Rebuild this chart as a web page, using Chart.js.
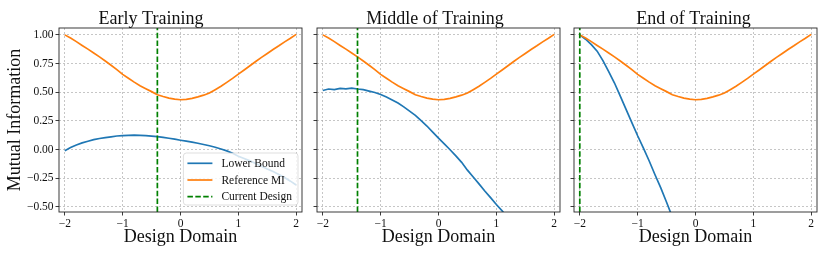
<!DOCTYPE html>
<html>
<head>
<meta charset="utf-8">
<script src="https://cdn.jsdelivr.net/npm/chart.js@4.4.1/dist/chart.umd.min.js"></script>
<style>
  body { margin: 0; background: #fff; }
  #wrap { position: relative; width: 830px; height: 260px; }
  canvas { position: absolute; top: 0; }
</style>
</head>
<body>
<div id="wrap">
  <canvas id="c1" width="310" height="260" style="left:0px"></canvas>
  <canvas id="c2" width="260" height="260" style="left:310px"></canvas>
  <canvas id="c3" width="260" height="260" style="left:570px"></canvas>
</div>
<script>
// data, x step 0.1
const xs = [-2.0, -1.9, -1.8, -1.7, -1.6, -1.5, -1.4, -1.3, -1.2, -1.1, -1.0,
            -0.9, -0.8, -0.7, -0.6, -0.5, -0.4, -0.3, -0.2, -0.1, 0.0,
             0.1, 0.2, 0.3, 0.4, 0.5, 0.6, 0.7, 0.8, 0.9, 1.0,
             1.1, 1.2, 1.3, 1.4, 1.5, 1.6, 1.7, 1.8, 1.9, 2.0];

const referenceMI = [1.000, 0.972, 0.941, 0.908, 0.876, 0.842, 0.808, 0.772, 0.735, 0.697, 0.655,
                     0.622, 0.588, 0.556, 0.530, 0.505, 0.478, 0.462, 0.448, 0.440, 0.434,
                     0.438, 0.446, 0.459, 0.474, 0.493, 0.522, 0.552, 0.586, 0.621, 0.658,
                     0.694, 0.731, 0.768, 0.804, 0.838, 0.873, 0.905, 0.939, 0.970, 1.004];

const lowerEarly = [-0.010, 0.018, 0.040, 0.058, 0.072, 0.086, 0.096, 0.104, 0.111, 0.118, 0.121,
                     0.124, 0.126, 0.124, 0.121, 0.117, 0.112, 0.106, 0.098, 0.090, 0.081,
                     0.073, 0.064, 0.055, 0.044, 0.033, 0.020, 0.005, -0.012, -0.033, -0.058,
                    -0.078, -0.099, -0.122, -0.146, -0.170, -0.192, -0.218, -0.245, -0.276, -0.310];

const lowerMiddle = [0.515, 0.528, 0.522, 0.533, 0.529, 0.536, 0.528, 0.522, 0.510, 0.497, 0.480,
                     0.458, 0.432, 0.405, 0.372, 0.335, 0.298, 0.252, 0.205, 0.152, 0.100,
                     0.050, -0.002, -0.055, -0.112, -0.180, -0.240, -0.300, -0.362, -0.420, -0.480,
                    -0.535, -0.600, null, null, null, null, null, null, null, null];

const lowerEnd = [1.000, 0.962, 0.915, 0.858, 0.775, 0.680, 0.580, 0.465, 0.350, 0.235, 0.120,
                  0.012, -0.100, -0.220, -0.335, -0.460, -0.590, null, null, null, null,
                  null, null, null, null, null, null, null, null, null, null,
                  null, null, null, null, null, null, null, null, null, null];

const currentDesign = [-0.4, -1.4, -2.0];
const panelTitles = ['Early Training', 'Middle of Training', 'End of Training'];
const seriesNames = ['Lower Bound', 'Reference MI', 'Current Design'];

const xTicks = [-2, -1, 0, 1, 2];
const xTickLabels = ['\u22122', '\u22121', '0', '1', '2'];
const yTicks = [-0.5, -0.25, 0, 0.25, 0.5, 0.75, 1.0];
const yTickLabels = ['\u22120.50', '\u22120.25', '0.00', '0.25', '0.50', '0.75', '1.00'];
const xMin = -2.1, xMax = 2.1, yMin = -0.545, yMax = 1.06;

const FONT = "'Liberation Serif', 'DejaVu Serif', serif";
Chart.defaults.font.family = FONT;
Chart.defaults.color = '#111';

const pts = (ys) => xs.map((x, i) => ({ x: x, y: ys[i] }));

// box around the plot area
const framePlugin = {
  id: 'frame',
  afterDraw(chart) {
    const a = chart.chartArea, ctx = chart.ctx;
    ctx.save();
    ctx.strokeStyle = '#262626';
    ctx.lineWidth = 0.9;
    ctx.strokeRect(a.left, a.top, a.right - a.left, a.bottom - a.top);
    ctx.restore();
  }
};

// matplotlib style legend inside the axes (lower right)
const innerLegend = {
  id: 'innerLegend',
  afterDraw(chart, args, opts) {
    if (!opts.show) return;
    const a = chart.chartArea, ctx = chart.ctx;
    const ds = chart.data.datasets;
    ctx.save();
    ctx.font = '11.5px ' + FONT;
    const maxW = Math.max(...ds.map(d => ctx.measureText(d.label).width));
    const w = 4 + 25 + 9 + maxW + 6;
    const h = 52;
    const x0 = a.right - 4 - w, y0 = a.bottom - 7 - h;
    ctx.beginPath();
    ctx.roundRect(x0, y0, w, h, 3);
    ctx.fillStyle = 'rgba(255,255,255,0.8)';
    ctx.fill();
    ctx.strokeStyle = 'rgba(204,204,204,0.8)';
    ctx.lineWidth = 0.8;
    ctx.stroke();
    ds.forEach((d, i) => {
      const y = y0 + 10.3 + i * 16.7;
      ctx.beginPath();
      ctx.strokeStyle = d.borderColor;
      ctx.lineWidth = d.borderWidth;
      ctx.setLineDash(d.borderDash || []);
      ctx.moveTo(x0 + 4, y);
      ctx.lineTo(x0 + 29, y);
      ctx.stroke();
      ctx.setLineDash([]);
      ctx.fillStyle = '#111';
      ctx.textBaseline = 'middle';
      ctx.fillText(d.label, x0 + 38, y + 0.5);
    });
    ctx.restore();
  }
};

const layouts = [
  { id: 'c1', yWidth: 59, padRight: 8, labels: true, legend: true },
  { id: 'c2', yWidth: 7, padRight: 10, labels: false, legend: false },
  { id: 'c3', yWidth: 4, padRight: 13, labels: false, legend: false }
];
const lowerSeries = [lowerEarly, lowerMiddle, lowerEnd];

const gridStyle = {
  color: 'rgba(170,170,170,0.85)',
  lineWidth: 0.8,
  tickColor: '#262626',
  tickLength: 3.5,
  tickWidth: 0.9
};

layouts.forEach((lay, p) => {
  new Chart(document.getElementById(lay.id), {
    type: 'line',
    data: {
      datasets: [
        {
          label: seriesNames[0],
          data: pts(lowerSeries[p]),
          borderColor: '#1f77b4',
          borderWidth: 1.7,
          order: 3
        },
        {
          label: seriesNames[1],
          data: pts(referenceMI),
          borderColor: '#ff7f0e',
          borderWidth: 1.7,
          order: 2
        },
        {
          label: seriesNames[2],
          data: [{ x: currentDesign[p], y: yMin }, { x: currentDesign[p], y: yMax }],
          borderColor: '#008000',
          borderWidth: 1.7,
          borderDash: [5.5, 2.4],
          order: 1
        }
      ]
    },
    options: {
      responsive: false,
      animation: false,
      spanGaps: false,
      elements: { point: { radius: 0 }, line: { tension: 0 } },
      layout: { padding: { left: 0, right: lay.padRight, top: 0, bottom: 0 } },
      plugins: {
        legend: { display: false },
        tooltip: { enabled: false },
        title: {
          display: true,
          text: panelTitles[p],
          font: { size: 18, weight: 'normal', lineHeight: 1.0 },
          color: '#111',
          padding: { top: 10, bottom: 0 }
        },
        innerLegend: { show: lay.legend }
      },
      scales: {
        x: {
          type: 'linear',
          min: xMin,
          max: xMax,
          afterBuildTicks: s => { s.ticks = xTicks.map(v => ({ value: v })); },
          afterFit: s => { s.height = 48; },
          ticks: {
            autoSkip: false,
            maxRotation: 0,
            padding: 2,
            font: { size: 11.5 },
            color: '#111',
            callback: v => xTickLabels[xTicks.indexOf(v)]
          },
          grid: gridStyle,
          border: { display: false, dash: [2, 2] },
          title: {
            display: true,
            text: 'Design Domain',
            font: { size: 18, lineHeight: 1.2 },
            color: '#111',
            padding: { top: 0, bottom: 12 }
          }
        },
        y: {
          type: 'linear',
          min: yMin,
          max: yMax,
          afterBuildTicks: s => { s.ticks = yTicks.map(v => ({ value: v })); },
          afterFit: s => { s.width = lay.yWidth; },
          ticks: {
            display: lay.labels,
            padding: 2,
            font: { size: 11.5 },
            color: '#111',
            callback: v => yTickLabels[yTicks.indexOf(v)]
          },
          grid: gridStyle,
          border: { display: false, dash: [2, 2] },
          title: {
            display: lay.labels,
            text: 'Mutual Information',
            font: { size: 18, lineHeight: 1.2 },
            color: '#111',
            padding: { top: 4.5, bottom: 0 }
          }
        }
      }
    },
    plugins: [framePlugin, innerLegend]
  });
});
</script>
</body>
</html>
